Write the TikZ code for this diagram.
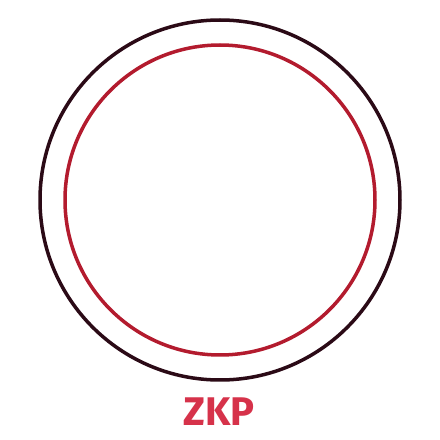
\documentclass[tikz,border=0pt]{standalone}
\usepackage{fontspec}
\setmainfont{Fira Sans}
\definecolor{ringdark}{HTML}{2B0A16}
\definecolor{ringred}{HTML}{B31B2E}
\definecolor{labelred}{HTML}{D6324A}
\tikzset{
  ring/.style={draw, line width=3.5pt},
  caption/.style={text=labelred, font=\fontsize{40}{44}\selectfont\bfseries, inner sep=0pt}
}
\begin{document}
\begin{tikzpicture}[x=1pt,y=1pt]
  % canvas
  \useasboundingbox (0,0) rectangle (440,440);

  % the two rings
  \coordinate (centre) at (220,240);
  \draw[ring, ringdark] (centre) circle (180);
  \draw[ring, ringred]  (centre) circle (155);

  % label
  \node[caption, anchor=base] (zkp) at (219,14) {ZKP};
\end{tikzpicture}
\end{document}
